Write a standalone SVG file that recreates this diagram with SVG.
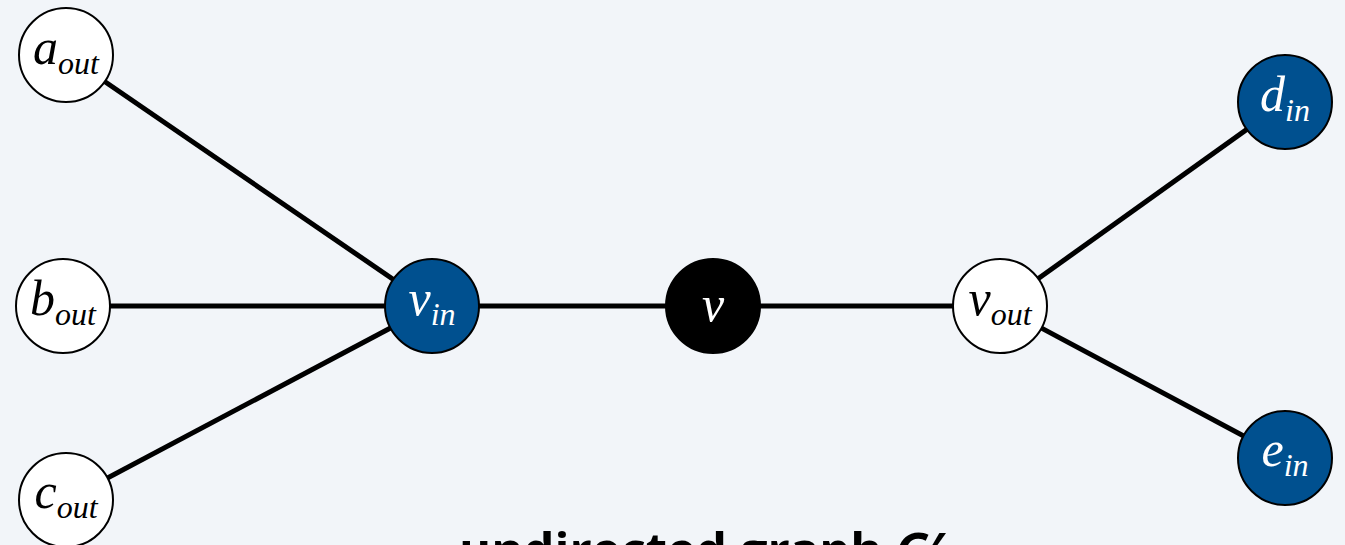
<svg xmlns="http://www.w3.org/2000/svg" width="1345" height="545" viewBox="0 0 1345 545">
<style>
.n{stroke:#000;stroke-width:2}
.w{fill:#fff}
.b{fill:#00508f}
.k{fill:#000}
.l{font-family:"Liberation Serif","Times New Roman",serif;font-style:italic;font-size:50px;text-anchor:middle}
.s{font-size:32px}
.lw{fill:#fff}
.lb{fill:#000}
.e{stroke:#000;stroke-width:5;fill:none}
.t{font-family:"Open Sans","DejaVu Sans",sans-serif;font-weight:bold;font-size:49px;text-anchor:middle}
</style>
<rect width="1345" height="545" fill="#f2f5f9"/>
<g id="edges">
<line class="e" x1="66" y1="55" x2="432" y2="306"/>
<line class="e" x1="63" y1="306" x2="432" y2="306"/>
<line class="e" x1="66" y1="500" x2="432" y2="306"/>
<line class="e" x1="432" y1="306" x2="1000" y2="306"/>
<line class="e" x1="1000" y1="306" x2="1285" y2="102"/>
<line class="e" x1="1000" y1="306" x2="1285" y2="458"/>
</g>
<g id="a_out"><circle class="n w" cx="66" cy="55" r="47"/><text class="l lb" x="66" y="64">a<tspan class="s" dy="10">out</tspan></text></g>
<g id="b_out"><circle class="n w" cx="63" cy="306" r="47"/><text class="l lb" x="63" y="315">b<tspan class="s" dy="10">out</tspan></text></g>
<g id="c_out"><circle class="n w" cx="66" cy="500" r="47"/><text class="l lb" x="66" y="508">c<tspan class="s" dy="10">out</tspan></text></g>
<g id="v_in"><circle class="n b" cx="432" cy="306" r="47"/><text class="l lw" x="432" y="315">v<tspan class="s" dy="10">in</tspan></text></g>
<g id="v"><circle class="n k" cx="713" cy="306" r="47"/><text class="l lw" x="713" y="321">v</text></g>
<g id="v_out"><circle class="n w" cx="1000" cy="306" r="47"/><text class="l lb" x="1000" y="315">v<tspan class="s" dy="10">out</tspan></text></g>
<g id="d_in"><circle class="n b" cx="1285" cy="102" r="47"/><text class="l lw" x="1285" y="111">d<tspan class="s" dy="10">in</tspan></text></g>
<g id="e_in"><circle class="n b" cx="1285" cy="458" r="47"/><text class="l lw" x="1285" y="466">e<tspan class="s" dy="10">in</tspan></text></g>
<text class="t" x="701" y="568">undirected graph <tspan font-style="italic">G′</tspan></text>
</svg>
